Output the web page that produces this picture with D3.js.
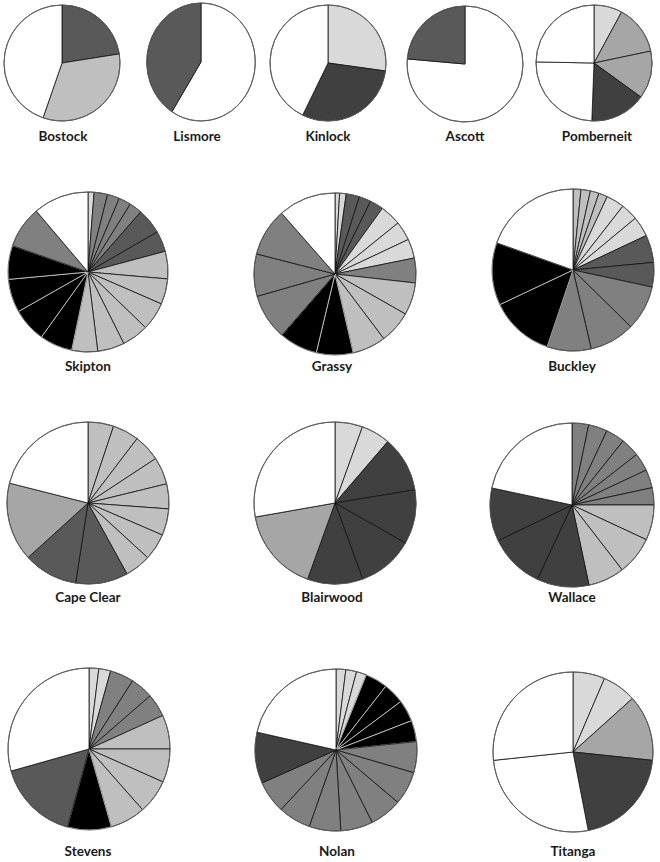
<!DOCTYPE html>
<html>
<head>
<meta charset="utf-8">
<script src="https://cdn.jsdelivr.net/npm/d3@7/dist/d3.min.js"></script>
<style>
  body { margin: 0; background: #fff; }
  svg { display: block; }
  .label { font-family: Lato, "Open Sans", sans-serif; font-weight: bold; font-size: 13.5px; fill: #1a1a1a; }
</style>
</head>
<body>
<div id="chart"></div>
<script>
// slice shares (clockwise from 12 o'clock)
var bostock = [22.5, 32.8, 44.7];
var bostockShade = ['d', 'l', 'w'];
var lismore = [59, 41];
var lismoreShade = ['w', 'd'];
var kinlock = [27.2, 30.0, 42.8];
var kinlockShade = ['vl', 'vd', 'w'];
var ascott = [76.4, 23.6];
var ascottShade = ['w', 'd'];
var pomberneit = [7.9, 13.8, 13.3, 15.6, 24.7, 24.7];
var pomberneitShade = ['vl', 'ml', 'ml', 'vd', 'w', 'w'];

var skipton = [4.4, 9.8, 8.8, 8.9, 9.4, 18.7, 15, 20, 18.5, 20.5, 19.4, 19.6, 18.8, 23.8, 24.8, 24.3, 24.5, 30.5, 40.3];
var skiptonShade = ['vl', 'm', 'm', 'm', 'm', 'd', 'd', 'l', 'l', 'l', 'l', 'l', 'l', 'k', 'k', 'k', 'k', 'm', 'w'];
var grassy = [3.3, 4.7, 9.5, 8.5, 9.8, 15.2, 13.8, 13.8, 17.8, 23.2, 23.4, 24, 26.4, 27.6, 33, 30.4, 34.3, 41.3];
var grassyShade = ['vl', 'vl', 'd', 'd', 'd', 'vl', 'vl', 'vl', 'm', 'l', 'l', 'l', 'k', 'k', 'm', 'm', 'm', 'w'];
var buckley = [5.7, 6.7, 6.3, 6.3, 13, 12.3, 14.5, 19.8, 17.6, 32.3, 32.5, 31.6, 46.1, 44.9, 70.4];
var buckleyShade = ['l', 'l', 'l', 'l', 'vl', 'vl', 'vl', 'd', 'd', 'm', 'm', 'm', 'k', 'k', 'w'];

var capeClear = [18.4, 18.9, 19.4, 19.6, 17.9, 19.1, 19.2, 18.7, 37.6, 38.9, 56.5, 75.8];
var capeClearShade = ['l', 'l', 'l', 'l', 'l', 'l', 'l', 'l', 'd', 'd', 'ml', 'w'];
var blairwood = [19.8, 20.9, 39.9, 39, 40.4, 39.8, 60.2, 100];
var blairwoodShade = ['vl', 'vl', 'vd', 'vd', 'vd', 'vd', 'ml', 'w'];
var wallace = [11.8, 13.4, 13.4, 13.4, 12.8, 13, 12.2, 25, 27.3, 25.7, 37, 39.3, 37.7, 78];
var wallaceShade = ['m', 'm', 'm', 'm', 'm', 'm', 'm', 'l', 'l', 'l', 'vd', 'vd', 'vd', 'w'];

var stevens = [7, 8.5, 17.1, 16.4, 16.6, 24.4, 24, 24.6, 25.4, 31.5, 58.7, 105.8];
var stevensShade = ['vl', 'vl', 'm', 'm', 'm', 'l', 'l', 'l', 'l', 'k', 'd', 'w'];
var nolan = [7, 7.7, 7.3, 16, 15.2, 15.6, 15.2, 22.3, 24, 23.2, 23.1, 22.7, 23.4, 23.3, 36.7, 77.3];
var nolanShade = ['vl', 'vl', 'vl', 'k', 'k', 'k', 'k', 'm', 'm', 'm', 'm', 'm', 'm', 'm', 'vd', 'w'];
var titanga = [23.2, 24.8, 48, 73, 95, 96];
var titangaShade = ['vl', 'vl', 'ml', 'vd', 'w', 'w'];

var shades = ['w', 'vl', 'l', 'ml', 'm', 'd', 'vd', 'k'];

//layout: one entry per pie (centre, radius, horizontal squash, label position)
var width = 660, height = 862;
var pies = [
    {name: 'Bostock',    values: bostock,    shade: bostockShade,    cx: 62,  cy: 63,  r: 58, sx: 1,    lx: 63,  ly: 141},
    {name: 'Lismore',    values: lismore,    shade: lismoreShade,    cx: 201, cy: 62,  r: 59, sx: 0.92, lx: 197, ly: 141},
    {name: 'Kinlock',    values: kinlock,    shade: kinlockShade,    cx: 328, cy: 63,  r: 58, sx: 1,    lx: 328, ly: 141},
    {name: 'Ascott',     values: ascott,     shade: ascottShade,     cx: 465, cy: 64,  r: 58, sx: 1,    lx: 465, ly: 141},
    {name: 'Pomberneit', values: pomberneit, shade: pomberneitShade, cx: 594, cy: 63,  r: 58, sx: 1,    lx: 597, ly: 141},
    {name: 'Skipton',    values: skipton,    shade: skiptonShade,    cx: 88,  cy: 272, r: 80, sx: 1,    lx: 88,  ly: 371},
    {name: 'Grassy',     values: grassy,     shade: grassyShade,     cx: 335, cy: 274, r: 81, sx: 1,    lx: 332, ly: 371},
    {name: 'Buckley',    values: buckley,    shade: buckleyShade,    cx: 573, cy: 270, r: 81, sx: 1,    lx: 572, ly: 371},
    {name: 'Cape Clear', values: capeClear,  shade: capeClearShade,  cx: 88,  cy: 503, r: 81, sx: 1,    lx: 88,  ly: 602},
    {name: 'Blairwood',  values: blairwood,  shade: blairwoodShade,  cx: 335, cy: 503, r: 81, sx: 1,    lx: 332, ly: 602},
    {name: 'Wallace',    values: wallace,    shade: wallaceShade,    cx: 572, cy: 505, r: 82, sx: 1,    lx: 572, ly: 602},
    {name: 'Stevens',    values: stevens,    shade: stevensShade,    cx: 89,  cy: 749, r: 81, sx: 1,    lx: 88,  ly: 856},
    {name: 'Nolan',      values: nolan,      shade: nolanShade,      cx: 336, cy: 750, r: 81, sx: 1,    lx: 337, ly: 856},
    {name: 'Titanga',    values: titanga,    shade: titangaShade,    cx: 573, cy: 752, r: 80, sx: 1,    lx: 573, ly: 856}
];

var fill = d3.scaleOrdinal()
    .domain(shades)
    .range(['#ffffff', '#d9d9d9', '#bfbfbf', '#a6a6a6', '#808080', '#595959', '#404040', '#000000']);

var svg = d3.select('#chart')
    .append('svg')
    .attr('width', width)
    .attr('height', height);

var pie = d3.pie()
    .sort(null)
    .value(function(d){ return d.v; });

pies.forEach(function(p){
    var slices = p.values.map(function(v, i){ return {v: v, s: p.shade[i]}; });
    var arc = d3.arc().innerRadius(0).outerRadius(p.r);

    var g = svg.append('g')
        .attr('transform', 'translate(' + p.cx + ',' + p.cy + ') scale(' + p.sx + ',1)');

    g.selectAll('path')
        .data(pie(slices))
        .enter()
            .append('path')
            .attr('d', arc)
            .attr('fill', function(d){ return fill(d.data.s); })
            //black slices are split by pale lines, the rest by near-black ones
            .attr('stroke', function(d){ return d.data.s == 'k' ? '#d0d0d0' : '#111'; })
            .attr('stroke-width', 0.8)
            .attr('vector-effect', 'non-scaling-stroke')
            ;

    //thin rim round the whole pie
    g.append('circle')
        .attr('r', p.r)
        .attr('fill', 'none')
        .attr('stroke', '#666')
        .attr('stroke-width', 0.8)
        .attr('vector-effect', 'non-scaling-stroke');

    svg.append('text')
        .attr('class', 'label')
        .attr('x', p.lx)
        .attr('y', p.ly)
        .attr('text-anchor', 'middle')
        .text(p.name);
});
</script>
</body>
</html>
